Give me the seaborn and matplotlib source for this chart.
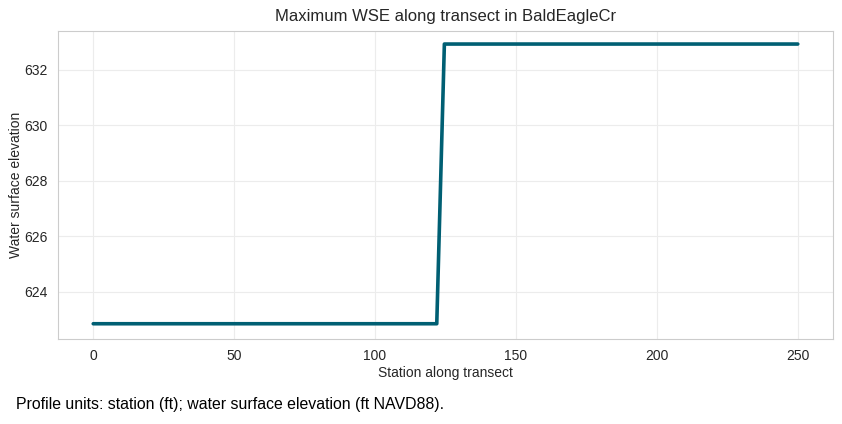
import numpy as np
import pandas as pd
import seaborn as sns
import matplotlib.pyplot as plt

sns.set_style('whitegrid')
plt.rcParams['font.family'] = ['Liberation Sans', 'DejaVu Sans']

# profile values
station = [0, 121.9, 124.6, 250]
wse = [622.85, 622.85, 632.93, 632.93]
df = pd.DataFrame({'station': station, 'wse': wse})

fig = plt.figure(figsize=(8.42, 4.24), dpi=100)
ax = fig.add_axes([58 / 842, 1 - 339 / 424, 775 / 842, 308 / 424])

sns.lineplot(data=df, x='station', y='wse', ax=ax, color='#005f73', linewidth=2.6)

ax.set_xlim(-12.5, 262.5)
ax.set_ylim(622.3, 633.4)
ax.set_xticks([0, 50, 100, 150, 200, 250])
ax.set_yticks([624, 626, 628, 630, 632])
ax.tick_params(labelsize=10, colors='#262626', pad=4)
ax.grid(color='#ececec', linewidth=0.8)
for s in ax.spines.values():
    s.set_color('#cccccc')

ax.set_title('Maximum WSE along transect in BaldEagleCr', fontsize=12, color='#262626', pad=7)
ax.set_xlabel('Station along transect', fontsize=10, color='#262626', labelpad=2)
ax.set_ylabel('Water surface elevation', fontsize=10, color='#262626', labelpad=1)

fig.text(16 / 842, 1 - 404 / 424, 'Profile units: station (ft); water surface elevation (ft NAVD88).',
         fontsize=11.4, va='center', ha='left', color='black')

fig.savefig('out.png', dpi=100)
